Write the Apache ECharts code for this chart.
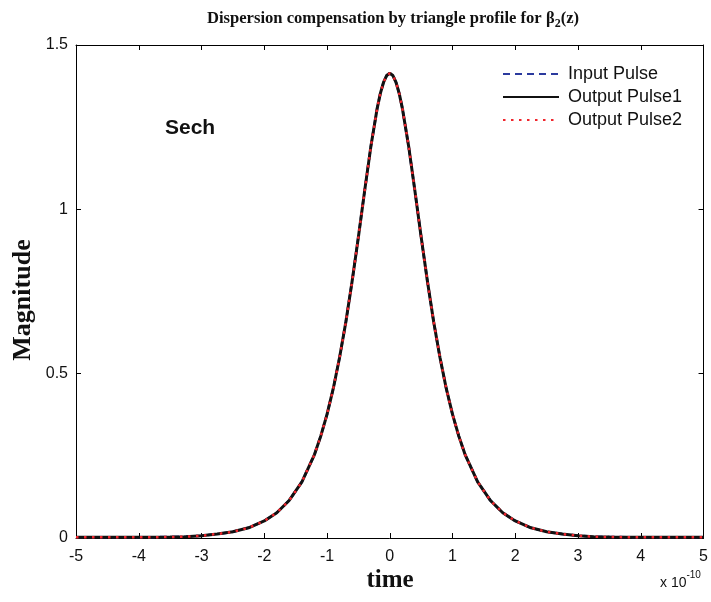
<!DOCTYPE html>
<html>
<head>
<meta charset="utf-8">
<script src="https://cdn.jsdelivr.net/npm/echarts@6/dist/echarts.min.js"></script>
<style>html,body{margin:0;padding:0;background:#fff}#c{width:711px;height:602px}</style>
</head>
<body>
<div id="c"></div>
<script>
// time in units of 1e-10 s
const timeValues = [-5,-4.5,-4,-3.5,-3.25,-3,-2.75,-2.5,-2.25,-2,-1.8,-1.6,-1.4,-1.2,-1.1,-1,-0.9,-0.8,-0.7,-0.6,-0.5,-0.4,-0.3,-0.2,-0.15,-0.1,-0.05,0,
  0.05,0.1,0.15,0.2,0.3,0.4,0.5,0.6,0.7,0.8,0.9,1,1.1,1.2,1.4,1.6,1.8,2,2.25,2.5,2.75,3,3.25,3.5,4,4.5,5];
const inputPulse = [0.002,0.002,0.002,0.003,0.004,0.007,0.012,0.019,0.031,0.052,0.077,0.115,0.171,0.254,0.310,0.376,0.455,0.549,0.657,0.781,0.916,1.057,1.193,1.308,1.353,1.386,1.407,1.414,
  1.407,1.386,1.353,1.308,1.193,1.057,0.916,0.781,0.657,0.549,0.455,0.376,0.310,0.254,0.171,0.115,0.077,0.052,0.031,0.019,0.012,0.007,0.004,0.003,0.002,0.002,0.002];
const outputPulse1 = [0.002,0.002,0.002,0.003,0.004,0.007,0.012,0.019,0.031,0.052,0.077,0.115,0.171,0.254,0.310,0.376,0.455,0.549,0.657,0.781,0.916,1.057,1.193,1.308,1.353,1.386,1.407,1.414,
  1.407,1.386,1.353,1.308,1.193,1.057,0.916,0.781,0.657,0.549,0.455,0.376,0.310,0.254,0.171,0.115,0.077,0.052,0.031,0.019,0.012,0.007,0.004,0.003,0.002,0.002,0.002];
const outputPulse2 = [0.002,0.002,0.002,0.003,0.004,0.007,0.012,0.019,0.031,0.052,0.077,0.115,0.171,0.254,0.310,0.376,0.455,0.549,0.657,0.781,0.916,1.057,1.193,1.308,1.353,1.386,1.407,1.414,
  1.407,1.386,1.353,1.308,1.193,1.057,0.916,0.781,0.657,0.549,0.455,0.376,0.310,0.254,0.171,0.115,0.077,0.052,0.031,0.019,0.012,0.007,0.004,0.003,0.002,0.002,0.002];
const seriesNames = ['Input Pulse','Output Pulse1','Output Pulse2'];
const xTicks = {min:-5, max:5, interval:1};
const yTicks = {min:0, max:1.5, interval:0.5};

const pair = arr => timeValues.map((t,i)=>[t,arr[i]]);
const sans = 'Liberation Sans, Arial, sans-serif';
const serif = 'Liberation Serif, Times New Roman, serif';

const chart = echarts.init(document.getElementById('c'), null, {renderer:'canvas'});
const axisCommon = {
  axisLine:{show:true, onZero:false, lineStyle:{color:'#000', width:1}},
  axisTick:{show:true, inside:true, length:5, lineStyle:{color:'#000'}},
  splitLine:{show:false}
};
chart.setOption({
  animation:false,
  backgroundColor:'#fff',
  title:{
    text:'{t|Dispersion compensation by triangle profile for β}{s|2}{t|(z)}',
    left:388, top:3, textAlign:'center',
    textStyle:{rich:{
      t:{fontFamily:serif, fontWeight:'bold', fontSize:16.6, color:'#111'},
      s:{fontFamily:serif, fontWeight:'bold', fontSize:12, color:'#111', padding:[10,0,0,0]}
    }}
  },
  legend:{
    orient:'vertical', left:497, top:60,
    itemWidth:56, itemHeight:14, itemGap:5,
    itemStyle:{opacity:0},
    textStyle:{fontFamily:sans, fontSize:18, lineHeight:18, color:'#111', padding:[0,0,0,4]},
    data:seriesNames
  },
  grid:{left:76, right:6, top:45, bottom:64, show:false},
  xAxis:[
    Object.assign({type:'value', min:xTicks.min, max:xTicks.max, interval:xTicks.interval, position:'bottom',
      axisLabel:{fontFamily:sans, fontSize:16, color:'#111', margin:11}}, axisCommon),
    Object.assign({type:'value', min:xTicks.min, max:xTicks.max, interval:xTicks.interval, position:'top',
      axisLabel:{show:false}}, axisCommon)
  ],
  yAxis:[
    Object.assign({type:'value', min:yTicks.min, max:yTicks.max, interval:yTicks.interval, position:'left',
      axisLabel:{fontFamily:sans, fontSize:16, color:'#111', margin:8}}, axisCommon),
    Object.assign({type:'value', min:yTicks.min, max:yTicks.max, interval:yTicks.interval, position:'right',
      axisLabel:{show:false}}, axisCommon)
  ],
  series:[
    {name:seriesNames[0], type:'line', data:pair(inputPulse), showSymbol:false, symbol:'none', z:2,
      lineStyle:{color:'#2b3a9e', width:2.5, type:[7,5]}, itemStyle:{color:'#2b3a9e'}},
    {name:seriesNames[1], type:'line', data:pair(outputPulse1), showSymbol:false, symbol:'none', z:3,
      lineStyle:{color:'#111', width:3}, itemStyle:{color:'#111'}},
    {name:seriesNames[2], type:'line', data:pair(outputPulse2), showSymbol:false, symbol:'none', z:4,
      lineStyle:{color:'#f0262d', width:2.5, type:[2.5,5.5]}, itemStyle:{color:'#f0262d'}}
  ],
  graphic:[
    {type:'text', left:165, top:118, style:{text:'Sech', fontFamily:sans, fontWeight:'bold', fontSize:21, fill:'#111'}},
    {type:'text', x:23, y:300, rotation:Math.PI/2, style:{text:'Magnitude', fontFamily:serif, fontWeight:'bold', fontSize:26, fill:'#111', align:'center', verticalAlign:'middle'}},
    {type:'text', x:390, y:581, style:{text:'time', fontFamily:serif, fontWeight:'bold', fontSize:25, fill:'#111', align:'center', verticalAlign:'middle'}},
    {type:'text', left:660, top:570, style:{
      text:'{a|x 10}{b|-10}', rich:{
        a:{fontFamily:sans, fontSize:14, fill:'#111', color:'#111', padding:[6,0,0,0]},
        b:{fontFamily:sans, fontSize:10, fill:'#111', color:'#111', verticalAlign:'top'}
      }}}
  ]
});
</script>
</body>
</html>
